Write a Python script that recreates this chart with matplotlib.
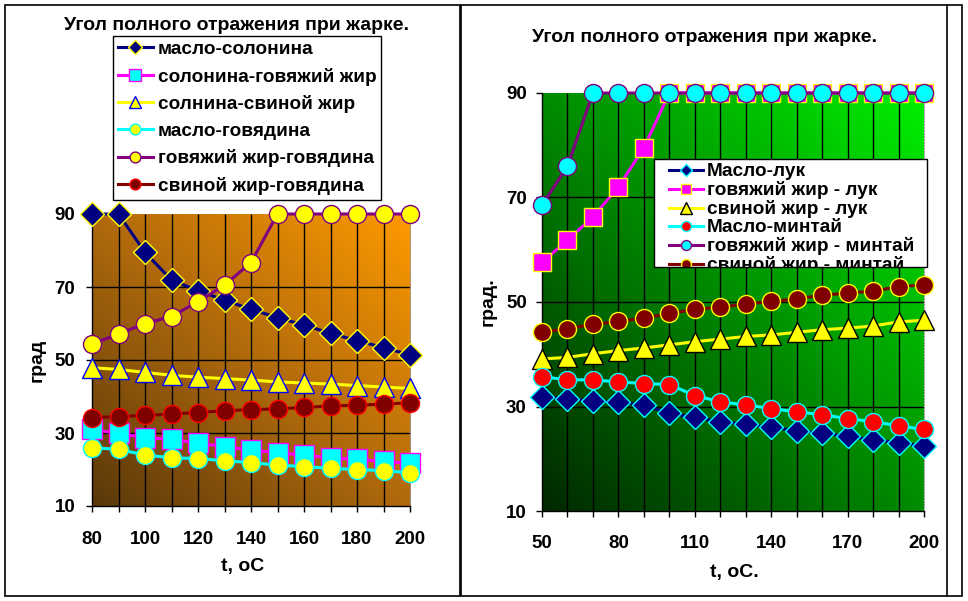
"""Total reflection angle during frying: two panels (orange / green)."""

import matplotlib
matplotlib.use("Agg")
import matplotlib.pyplot as plt
import numpy as np
from matplotlib.colors import LinearSegmentedColormap
from matplotlib.lines import Line2D
from matplotlib.patches import Rectangle
from matplotlib.text import Text
from matplotlib.transforms import Bbox, TransformedBbox

plt.rcParams["font.family"] = ["Liberation Sans", "DejaVu Sans"]
plt.rcParams["font.weight"] = "bold"

# ── Data: left panel ────────────────────────────────────────────────
t_left = [80, 90, 100, 110, 120, 130, 140, 150, 160, 170, 180, 190, 200]
maslo_solonina = [90, 90, 79.5, 71.9, 69.0, 66.4, 63.9, 61.6, 59.6, 57.3, 55.3, 53.4, 51.4]
solonina_govjazhij = [31.0, 29.9, 28.7, 28.3, 27.2, 26.3, 25.3, 24.6, 23.9, 23.2, 22.8, 22.2, 21.7]
solonina_svinoj = [47.9, 47.4, 46.6, 45.8, 45.3, 44.9, 44.5, 44.0, 43.7, 43.4, 43.0, 42.6, 42.2]
maslo_govjadina = [26.0, 25.5, 24.0, 23.2, 23.0, 22.4, 21.9, 21.2, 20.8, 20.3, 20.0, 19.7, 19.1]
govjazhij_govjadina = [54.4, 57.1, 60.0, 61.9, 66.0, 70.5, 76.7, 90, 90, 90, 90, 90, 90]
svinoj_govjadina = [34.2, 34.5, 34.8, 35.2, 35.6, 36.1, 36.4, 36.6, 37.0, 37.4, 37.6, 37.9, 38.3]
left_labels = ["масло-солонина", "солонина-говяжий жир", "солнина-свиной жир",
               "масло-говядина", "говяжий жир-говядина", "свиной жир-говядина"]

# ── Data: right panel ───────────────────────────────────────────────
t_right = [50, 60, 70, 80, 90, 100, 110, 120, 130, 140, 150, 160, 170, 180, 190, 200]
maslo_luk = [31.9, 31.5, 31.1, 30.8, 30.3, 28.7, 27.9, 27.1, 26.6, 26.0, 25.4, 24.9,
             24.3, 23.6, 23.1, 22.4]
govjazhij_luk = [57.6, 61.8, 66.3, 72.0, 79.5, 90, 90, 90, 90, 90, 90, 90, 90, 90, 90, 90]
svinoj_luk = [39.1, 39.4, 40.1, 40.7, 41.2, 41.8, 42.4, 42.9, 43.4, 43.7, 44.2, 44.7,
              45.0, 45.4, 46.2, 46.5]
maslo_mintaj = [35.7, 35.1, 35.1, 34.7, 34.4, 34.2, 32.1, 30.9, 30.3, 29.6, 29.0, 28.4,
                27.7, 27.1, 26.3, 25.6]
govjazhij_mintaj = [68.5, 76.0, 90, 90, 90, 90, 90, 90, 90, 90, 90, 90, 90, 90, 90, 90]
svinoj_mintaj = [44.2, 44.9, 45.7, 46.3, 46.9, 47.8, 48.6, 49.0, 49.6, 50.1, 50.6, 51.3,
                 51.7, 52.1, 52.9, 53.3]
right_labels = ["Масло-лук", "говяжий жир - лук", "свиной жир - лук",
                "Масло-минтай", "говяжий жир - минтай", "свиной жир - минтай"]

y_ticks = [10, 30, 50, 70, 90]
title = "Угол полного отражения при жарке."

W, H = 968, 601
fig = plt.figure(figsize=(W / 100, H / 100), dpi=100)
fig.patch.set_facecolor("white")


def px(x, y):
    """Pixel position (from top-left) -> figure fraction."""
    return x / W, 1 - y / H


def axes_px(x0, y0, x1, y1):
    return fig.add_axes([x0 / W, 1 - y1 / H, (x1 - x0) / W, (y1 - y0) / H])


def gradient(ax, xlim, cmap):
    g = np.add.outer(np.linspace(0, 1, 200), np.linspace(0, 1, 200)) / 2
    ax.imshow(g, extent=[xlim[0], xlim[1], 10, 90], origin="lower",
              aspect="auto", cmap=cmap, zorder=0, interpolation="bilinear")


def style_axes(ax, x, major_step, pad_x, pad_y):
    ax.set_xlim(x[0], x[-1])
    ax.set_ylim(y_ticks[0], y_ticks[-1])
    ax.set_yticks(y_ticks)
    ax.set_xticks(x[::major_step])
    ax.set_xticks(x, minor=True)
    ax.tick_params(axis="both", which="both", direction="out", length=4,
                   width=1, color="black", labelsize=13.5)
    ax.tick_params(axis="x", which="major", pad=pad_x)
    ax.tick_params(axis="y", pad=pad_y)
    for lab in ax.get_xticklabels() + ax.get_yticklabels():
        lab.set_fontweight("bold")
    ax.spines["top"].set_visible(False)
    ax.spines["right"].set_color("#999999")
    ax.spines["right"].set_linestyle(":")
    ax.spines["left"].set_linewidth(1)
    ax.spines["bottom"].set_linewidth(1)
    ax.vlines(x[1:-1], y_ticks[0], y_ticks[-1], colors="black", lw=1, zorder=1)
    ax.hlines(y_ticks[1:-1], x[0], x[-1], colors="black", lw=1, zorder=1)


# ── Panel borders ───────────────────────────────────────────────────
for (x0, y0, x1, y1) in [(5, 5, 460, 596), (461, 5, 962, 596)]:
    fig.add_artist(Rectangle(px(x0, y1), (x1 - x0) / W, (y1 - y0) / H,
                             transform=fig.transFigure, fill=False,
                             edgecolor="black", lw=1.2, zorder=0))
fig.add_artist(Line2D([947 / W, 947 / W], [px(0, 596)[1], px(0, 5)[1]],
                      transform=fig.transFigure, color="black", lw=1.2))

# ── Left panel ──────────────────────────────────────────────────────
orange = LinearSegmentedColormap.from_list("o", ["#5a380a", "#b06a0c", "#ff9a00"])
ax1 = axes_px(92, 214, 410, 506)
gradient(ax1, (t_left[0], t_left[-1]), orange)
style_axes(ax1, t_left, 2, 14, 8)

lk = dict(lw=2.2, clip_on=False, zorder=3)
ax1.plot(t_left, maslo_solonina, color="#000080", marker="D", ms=12,
         mfc="#000080", mec="#ffff00", mew=1, label=left_labels[0], **lk)
ax1.plot(t_left, solonina_govjazhij, color="#ff00ff", marker="s", ms=14,
         mfc="#00ffff", mec="#ff00ff", mew=1, label=left_labels[1], **lk)
ax1.plot(t_left, solonina_svinoj, color="#ffff00", marker="^", ms=15,
         mfc="#ffff00", mec="#0000ff", mew=1, label=left_labels[2], **lk)
ax1.plot(t_left, maslo_govjadina, color="#00ffff", marker="o", ms=13,
         mfc="#ffff00", mec="#00ffff", mew=1, label=left_labels[3], **lk)
ax1.plot(t_left, govjazhij_govjadina, color="#800080", marker="o", ms=13,
         mfc="#ffff00", mec="#800080", mew=1, label=left_labels[4], **lk)
ax1.plot(t_left, svinoj_govjadina, color="#800000", marker="o", ms=13,
         mfc="#800000", mec="#ff0000", mew=1, label=left_labels[5], **lk)

fig.text(*px(237, 25), title, ha="center", va="center", fontsize=14,
         fontweight="bold")
fig.text(*px(37, 360), "град", ha="center", va="center", rotation=90,
         fontsize=14, fontweight="bold")
fig.text(*px(243, 567), "t, oC", ha="center", va="center", fontsize=14,
         fontweight="bold")

leg1 = fig.legend(*ax1.get_legend_handles_labels(), loc="upper left",
                  bbox_to_anchor=px(113, 36), borderaxespad=0, fontsize=13.7,
                  frameon=True, fancybox=False, edgecolor="black",
                  framealpha=1, markerscale=0.6, handlelength=1.85,
                  handletextpad=0.25, labelspacing=0.5, borderpad=0.25)
leg1.get_frame().set_linewidth(1)

# ── Right panel ─────────────────────────────────────────────────────
green = LinearSegmentedColormap.from_list("g", ["#002800", "#008c00", "#00f000"])
ax2 = axes_px(542, 93, 924, 511)
gradient(ax2, (t_right[0], t_right[-1]), green)
style_axes(ax2, t_right, 3, 13, 7)

ax2.plot(t_right, maslo_luk, color="#000080", marker="D", ms=12,
         mfc="#000080", mec="#00ffff", mew=1, label=right_labels[0], **lk)
ax2.plot(t_right, govjazhij_luk, color="#ff00ff", marker="s", ms=12.5,
         mfc="#ff00ff", mec="#ffff00", mew=1, label=right_labels[1], **lk)
ax2.plot(t_right, svinoj_luk, color="#ffff00", marker="^", ms=15,
         mfc="#ffff00", mec="black", mew=1, label=right_labels[2], **lk)
ax2.plot(t_right, maslo_mintaj, color="#00ffff", marker="o", ms=13,
         mfc="#ff0000", mec="#00ffff", mew=1, label=right_labels[3], **lk)
ax2.plot(t_right, govjazhij_mintaj, color="#800080", marker="o", ms=13,
         mfc="#00ffff", mec="#800080", mew=1, label=right_labels[4], **lk)
ax2.plot(t_right, svinoj_mintaj, color="#800000", marker="o", ms=13,
         mfc="#800000", mec="#ffff00", mew=1, label=right_labels[5], **lk)

fig.text(*px(705, 38), title, ha="center", va="center", fontsize=14,
         fontweight="bold")
fig.text(*px(488, 302), "град.", ha="center", va="center", rotation=90,
         fontsize=14, fontweight="bold")
fig.text(*px(734, 573), "t, oC.", ha="center", va="center", fontsize=14,
         fontweight="bold")

# legend box is too short in the original: last entry gets cut off
box = (654, 159, 927, 267)
fig.add_artist(Rectangle(px(box[0], box[3]), (box[2] - box[0]) / W,
                         (box[3] - box[1]) / H, transform=fig.transFigure,
                         facecolor="white", edgecolor="none", zorder=4))
leg2 = fig.legend(*ax2.get_legend_handles_labels(), loc="upper left",
                  bbox_to_anchor=px(669, 163), borderaxespad=0,
                  fontsize=13.7, frameon=False, markerscale=0.55,
                  handlelength=1.8, handletextpad=0.2, labelspacing=0.05,
                  borderpad=0)
leg2.set_zorder(5)
clip = TransformedBbox(Bbox.from_extents(*px(box[0], box[3]), *px(box[2], box[1])),
                       fig.transFigure)
for a in leg2.findobj(lambda o: isinstance(o, (Line2D, Text))):
    a.set_clip_box(clip)
    a.set_clip_on(True)
fig.add_artist(Rectangle(px(box[0], box[3]), (box[2] - box[0]) / W,
                         (box[3] - box[1]) / H, transform=fig.transFigure,
                         fill=False, edgecolor="black", lw=1, zorder=6))

fig.savefig("out.png", dpi=100, facecolor="white")
